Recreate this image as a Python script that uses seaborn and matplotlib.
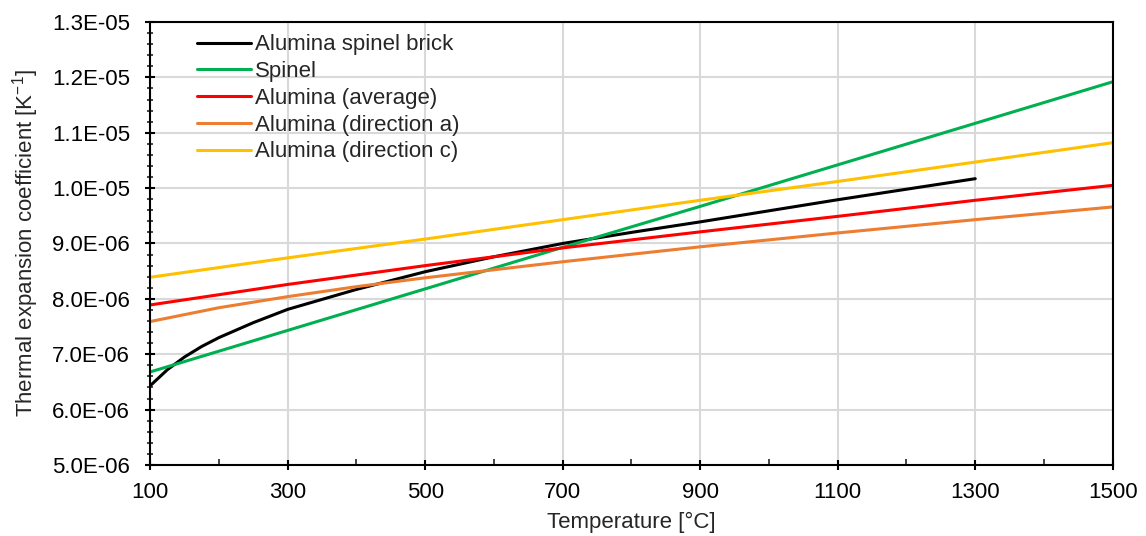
import numpy as np
import pandas as pd
import matplotlib
matplotlib.use('Agg')
import matplotlib.pyplot as plt
import seaborn as sns
from matplotlib.ticker import FuncFormatter, MultipleLocator, FixedLocator

# --- Data ---
temp_brick = [100, 125, 150, 175, 200, 250, 300, 400, 500, 600, 700, 800, 900, 1000, 1100, 1200, 1300]
cte_brick = [6.43e-06, 6.72e-06, 6.95e-06, 7.14e-06, 7.30e-06, 7.57e-06, 7.81e-06, 8.17e-06, 8.49e-06,
             8.76e-06, 9.00e-06, 9.20e-06, 9.39e-06, 9.59e-06, 9.79e-06, 9.98e-06, 1.017e-05]

temp_lines = [100, 300, 500, 700, 900, 1100, 1300, 1500]
cte_spinel = [6.68e-06, 7.43e-06, 8.18e-06, 8.93e-06, 9.67e-06, 1.042e-05, 1.117e-05, 1.192e-05]
cte_alumina_avg = [7.89e-06, 8.26e-06, 8.60e-06, 8.92e-06, 9.21e-06, 9.49e-06, 9.78e-06, 1.005e-05]
cte_alumina_c = [8.39e-06, 8.74e-06, 9.08e-06, 9.43e-06, 9.78e-06, 1.012e-05, 1.047e-05, 1.082e-05]

temp_dir_a = [100, 200, 300, 400, 500, 700, 900, 1100, 1300, 1500]
cte_alumina_a = [7.59e-06, 7.84e-06, 8.04e-06, 8.22e-06, 8.38e-06, 8.67e-06, 8.94e-06, 9.19e-06,
                 9.43e-06, 9.66e-06]

series_names = ['Alumina spinel brick', 'Spinel', 'Alumina (average)',
                'Alumina (direction a)', 'Alumina (direction c)']
series_colors = ['#000000', '#00b050', '#ff0000', '#ed7d31', '#ffc000']

# Build one long table for seaborn
series_data = [(temp_brick, cte_brick), (temp_lines, cte_spinel), (temp_lines, cte_alumina_avg),
               (temp_dir_a, cte_alumina_a), (temp_lines, cte_alumina_c)]
frames = []
for name, (t, v) in zip(series_names, series_data):
    frames.append(pd.DataFrame({'T': t, 'CTE': v, 'Material': name}))
df = pd.concat(frames, ignore_index=True)

sns.set_style('white')
plt.rcParams['font.family'] = ['Liberation Sans', 'DejaVu Sans']
plt.rcParams['mathtext.default'] = 'regular'

fig = plt.figure(figsize=(11.46, 5.36), dpi=100)
ax = fig.add_axes([0.131, 0.1325, 0.840, 0.8265])

sns.lineplot(data=df, x='T', y='CTE', hue='Material', hue_order=series_names,
             palette=series_colors, linewidth=2.2, ax=ax, sort=True)

ax.set_xlim(100, 1500)
ax.set_ylim(5e-06, 1.3e-05)
ax.xaxis.set_major_locator(FixedLocator(list(range(100, 1501, 200))))
ax.xaxis.set_minor_locator(FixedLocator(list(range(200, 1500, 200))))
ax.yaxis.set_major_locator(MultipleLocator(1e-06))
ax.yaxis.set_minor_locator(MultipleLocator(2e-07))
ax.yaxis.set_major_formatter(FuncFormatter(lambda v, p: '{:.1E}'.format(v)))

ax.grid(True, which='major', color='#d9d9d9', linewidth=1.5)
ax.set_axisbelow(True)
for s in ax.spines.values():
    s.set_color('black')
    s.set_linewidth(1.5)

ax.tick_params(axis='both', which='major', direction='inout', length=7, width=1.5,
               labelsize=16, colors='black')
ax.tick_params(axis='x', which='major', pad=9)
ax.tick_params(axis='y', which='major', pad=11)
ax.tick_params(axis='x', which='minor', direction='in', length=4, width=1.2)
ax.tick_params(axis='y', which='minor', direction='inout', length=5, width=1.2)
ax.tick_params(axis='x', which='both', bottom=True, top=False)
ax.tick_params(axis='y', which='both', left=True, right=False)

ax.set_xlabel('Temperature [°C]', fontsize=16, labelpad=6)
ax.set_ylabel('Thermal expansion coefficient [K$^{-1}$]', fontsize=16, labelpad=8)

ax.legend(title=None, loc='upper left', bbox_to_anchor=(0.049, 0.972), frameon=False,
          fontsize=16, handlelength=2.4, handletextpad=0.2, labelspacing=0.26,
          borderaxespad=0.0, borderpad=0.0)

fig.savefig('out.png', dpi=100)
